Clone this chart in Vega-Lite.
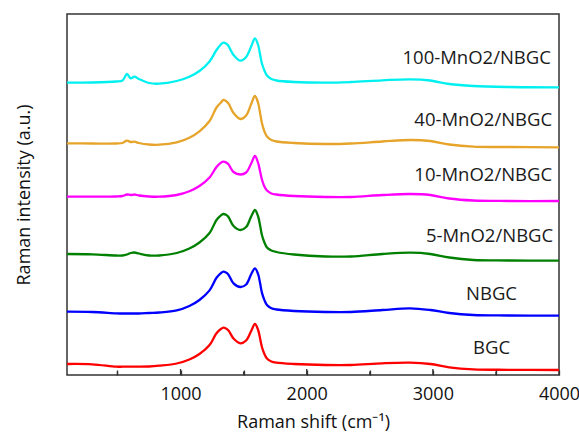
{
  "$schema": "https://vega.github.io/schema/vega-lite/v6.json",
  "width": 492,
  "height": 361,
  "autosize": {"type": "none"},
  "padding": {"left": 67, "top": 14, "right": 20, "bottom": 59},
  "background": "white",
  "config": {
    "view": {"stroke": "#333333", "strokeWidth": 1.5},
    "font": "Open Sans"
  },
  "datasets": {
    "spectra": [
      {"x":100,"BGC":11,"NBGC":63.3,"M5":121,"M10":178.3,"M40":231.7,"M100":292.3},
      {"x":300,"BGC":10.7,"NBGC":63,"M5":120.7,"M10":178.3,"M40":231.5,"M100":292.5},
      {"x":490,"BGC":8.3,"NBGC":61.7,"M5":119.5,"M10":178.5,"M40":231.5,"M100":293.5},
      {"x":540,"BGC":8.3,"NBGC":61.5,"M5":119.5,"M10":179,"M40":232,"M100":294.5},
      {"x":575,"BGC":8.3,"NBGC":61.5,"M5":120.5,"M10":180.5,"M40":234.3,"M100":301},
      {"x":605,"BGC":8.3,"NBGC":61.5,"M5":122,"M10":180,"M40":233,"M100":296.7},
      {"x":635,"BGC":8.3,"NBGC":61.5,"M5":122.5,"M10":180.5,"M40":233.3,"M100":298.3},
      {"x":670,"BGC":8.3,"NBGC":61.5,"M5":121.5,"M10":179.5,"M40":232,"M100":296},
      {"x":750,"BGC":8.5,"NBGC":62,"M5":119.5,"M10":178.5,"M40":230.5,"M100":292},
      {"x":830,"BGC":9.3,"NBGC":62.5,"M5":119.5,"M10":178.3,"M40":230.3,"M100":291.3},
      {"x":970,"BGC":11.5,"NBGC":64.6,"M5":122,"M10":180,"M40":232.7,"M100":294},
      {"x":1070,"BGC":15.5,"NBGC":69,"M5":126.5,"M10":183.8,"M40":237.3,"M100":298.3},
      {"x":1150,"BGC":21,"NBGC":75,"M5":132.5,"M10":189,"M40":243.7,"M100":304},
      {"x":1230,"BGC":30,"NBGC":84.6,"M5":142,"M10":197.5,"M40":254,"M100":313.5},
      {"x":1285,"BGC":41.7,"NBGC":97.2,"M5":155,"M10":208,"M40":267.5,"M100":325},
      {"x":1320,"BGC":46,"NBGC":101.9,"M5":159.7,"M10":212.3,"M40":272.5,"M100":330.5},
      {"x":1340,"BGC":47.3,"NBGC":103.3,"M5":161,"M10":213.3,"M40":275,"M100":332.3},
      {"x":1360,"BGC":46.5,"NBGC":102.4,"M5":160.2,"M10":212.6,"M40":274,"M100":331.5},
      {"x":1380,"BGC":44.5,"NBGC":100.3,"M5":158,"M10":210.7,"M40":271.5,"M100":329},
      {"x":1420,"BGC":36.5,"NBGC":91.6,"M5":149,"M10":203,"M40":262,"M100":320},
      {"x":1475,"BGC":31.7,"NBGC":88,"M5":145,"M10":200.5,"M40":256,"M100":314.3},
      {"x":1520,"BGC":34.5,"NBGC":90.5,"M5":148,"M10":202.5,"M40":259.5,"M100":318},
      {"x":1560,"BGC":44,"NBGC":100.7,"M5":158.5,"M10":211.5,"M40":271,"M100":328.5},
      {"x":1590,"BGC":51,"NBGC":106.7,"M5":165,"M10":219,"M40":279,"M100":336.7},
      {"x":1615,"BGC":45,"NBGC":100.8,"M5":158.5,"M10":212,"M40":272,"M100":330},
      {"x":1630,"BGC":37,"NBGC":92.2,"M5":150,"M10":204,"M40":262.5,"M100":321},
      {"x":1645,"BGC":28,"NBGC":82.4,"M5":140,"M10":195.5,"M40":252,"M100":311.5},
      {"x":1665,"BGC":21,"NBGC":74.9,"M5":132.5,"M10":188.5,"M40":243.5,"M100":304.5},
      {"x":1685,"BGC":16.5,"NBGC":70,"M5":127.5,"M10":184.5,"M40":238.5,"M100":299.5},
      {"x":1720,"BGC":13.5,"NBGC":66.8,"M5":124.5,"M10":181.5,"M40":235,"M100":296},
      {"x":1760,"BGC":12.3,"NBGC":65.5,"M5":123,"M10":180.5,"M40":233.5,"M100":294.5},
      {"x":1900,"BGC":11,"NBGC":64,"M5":120.5,"M10":179,"M40":232,"M100":293},
      {"x":2150,"BGC":10,"NBGC":63,"M5":118.5,"M10":178,"M40":231,"M100":292.3},
      {"x":2350,"BGC":10,"NBGC":63,"M5":118.5,"M10":178,"M40":231.5,"M100":293},
      {"x":2600,"BGC":11.7,"NBGC":65,"M5":121,"M10":180,"M40":233.5,"M100":294.7},
      {"x":2820,"BGC":12.3,"NBGC":66.7,"M5":122.3,"M10":181,"M40":235,"M100":295.7},
      {"x":2980,"BGC":11,"NBGC":65,"M5":121,"M10":180,"M40":234,"M100":294.5},
      {"x":3130,"BGC":7.7,"NBGC":62,"M5":117.5,"M10":176.5,"M40":230.5,"M100":291},
      {"x":3320,"BGC":5.7,"NBGC":60,"M5":115,"M10":174.5,"M40":228.3,"M100":289},
      {"x":3600,"BGC":5.2,"NBGC":59.5,"M5":114.5,"M10":174,"M40":228,"M100":288},
      {"x":4000,"BGC":5,"NBGC":59.3,"M5":114.3,"M10":174,"M40":227.7,"M100":287.7}
    ],
    "labels": [
      {"label":"100-MnO2/NBGC","lx":3936,"ly":317},
      {"label":"40-MnO2/NBGC","lx":3946,"ly":255},
      {"label":"10-MnO2/NBGC","lx":3946,"ly":200},
      {"label":"5-MnO2/NBGC","lx":3954,"ly":139},
      {"label":"NBGC","lx":3667,"ly":81},
      {"label":"BGC","lx":3612,"ly":27}
    ],
    "ticks": [
      {"t":500,"kind":"minor"},
      {"t":1000,"kind":"major"},
      {"t":1500,"kind":"minor"},
      {"t":2000,"kind":"major"},
      {"t":2500,"kind":"minor"},
      {"t":3000,"kind":"major"},
      {"t":3500,"kind":"minor"}
    ]
  },
  "layer": [
    {
      "data": {"name": "spectra"},
      "transform": [{"fold": ["BGC","NBGC","M5","M10","M40","M100"], "as": ["series","intensity"]}],
      "mark": {"type": "line", "strokeWidth": 2.3, "interpolate": "catmull-rom", "clip": true},
      "encoding": {
        "x": {
          "field": "x", "type": "quantitative",
          "scale": {"domain": [100, 4000], "nice": false, "zero": false},
          "axis": {
            "title": "Raman shift (cm⁻¹)",
            "values": [500,1000,1500,2000,2500,3000,3500,4000],
            "format": "d",
            "labelExpr": "datum.value % 1000 === 0 ? datum.label : ''",
            "grid": false,
            "domain": false,
            "ticks": true,
            "zindex": 2,
            "tickColor": "#333333",
            "tickWidth": 1.3,
            "tickSize": -5,
            "labelFont": "Open Sans",
            "labelFontSize": 18,
            "labelColor": "#111111",
            "labelPadding": 15,
            "labelFlush": false,
            "labelOverlap": false,
            "titleFont": "Open Sans",
            "titleFontSize": 18,
            "titleFontWeight": "normal",
            "titleColor": "#111111",
            "titlePadding": 10.5
          }
        },
        "y": {
          "field": "intensity", "type": "quantitative",
          "scale": {"domain": [0, 361], "nice": false, "zero": false},
          "axis": {
            "title": "Raman intensity (a.u.)",
            "labels": false,
            "ticks": false,
            "grid": false,
            "domain": false,
            "titleFont": "Open Sans",
            "titleFontSize": 18,
            "titleFontWeight": "normal",
            "titleColor": "#111111",
            "titlePadding": 34
          }
        },
        "color": {
          "field": "series", "type": "nominal",
          "scale": {
            "domain": ["BGC","NBGC","M5","M10","M40","M100"],
            "range": ["#FF0000","#0000FF","#008000","#FF00FF","#E6A42B","#00F0F0"]
          },
          "legend": null
        }
      }
    },
    {
      "data": {"name": "ticks"},
      "transform": [{"filter": "datum.kind === 'major'"}],
      "mark": {"type": "rule", "color": "#333333", "strokeWidth": 1.3},
      "encoding": {
        "x": {"field": "t", "type": "quantitative"},
        "y": {"datum": 0},
        "y2": {"datum": 6}
      }
    },
    {
      "data": {"name": "ticks"},
      "transform": [{"filter": "datum.kind === 'minor'"}],
      "mark": {"type": "rule", "color": "#333333", "strokeWidth": 1.3},
      "encoding": {
        "x": {"field": "t", "type": "quantitative"},
        "y": {"datum": 0},
        "y2": {"datum": 3.5}
      }
    },
    {
      "data": {"name": "labels"},
      "mark": {"type": "text", "align": "right", "baseline": "middle", "font": "Open Sans", "fontSize": 18.5, "color": "#1a1a1a"},
      "encoding": {
        "x": {"field": "lx", "type": "quantitative"},
        "y": {"field": "ly", "type": "quantitative"},
        "text": {"field": "label"}
      }
    }
  ]
}
